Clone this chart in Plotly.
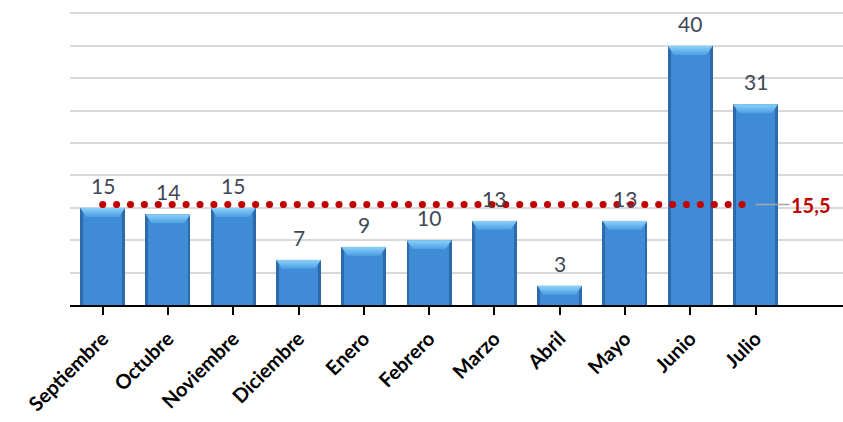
import plotly.graph_objects as go

# Monthly counts and the period average
months = ["Septiembre", "Octubre", "Noviembre", "Diciembre", "Enero", "Febrero",
          "Marzo", "Abril", "Mayo", "Junio", "Julio"]
counts = [15, 14, 15, 7, 9, 10, 13, 3, 13, 40, 31]
average = 15.5
average_label = "15,5"

BAR_W = 0.69        # outer bar width (category units)
INNER_W = 0.60      # lighter inner face
BEVEL_BOTTOM = 0.25 # half width of the bevel's lower edge
BEVEL_DEPTH = 1.4   # bevel height in value units

fig = go.Figure()

# Dark outer bar (gives the shaded side edges)
fig.add_trace(go.Bar(
    x=list(range(len(months))), y=counts, width=BAR_W,
    marker=dict(color="#2c69ad", line=dict(width=0)),
    hoverinfo="skip", showlegend=False,
))
# Lighter front face
fig.add_trace(go.Bar(
    x=list(range(len(months))), y=counts, width=INNER_W,
    marker=dict(color="#408bd5", line=dict(width=0)),
    hoverinfo="skip", showlegend=False,
))

# Bevelled top of each bar
for i, v in enumerate(counts):
    lo = max(v - BEVEL_DEPTH, 0)
    fig.add_trace(go.Scatter(
        x=[i - BAR_W / 2, i + BAR_W / 2, i + BEVEL_BOTTOM, i - BEVEL_BOTTOM, i - BAR_W / 2],
        y=[v, v, lo, lo, v],
        mode="lines", line=dict(width=0),
        fill="toself",
        fillgradient=dict(type="vertical",
                          colorscale=[[0, "#4c9fe4"], [1, "#8fd2f8"]]),
        hoverinfo="skip", showlegend=False,
    ))

# Dotted average line
fig.add_trace(go.Scatter(
    x=[0, len(months) - 1], y=[average, average],
    mode="lines",
    line=dict(color="#c00000", width=7, dash="0.1px,13.8px"),
    hoverinfo="skip", showlegend=False,
))

# Value labels above the bars
for i, v in enumerate(counts):
    fig.add_annotation(
        x=i, y=v, text=str(v), showarrow=False,
        yanchor="bottom", yshift=8,
        font=dict(family="Lato", size=21, color="#3f4756"),
    )

# Average label with leader line
fig.add_annotation(
    x=len(months) - 1, y=average, text="<b>" + average_label + "</b>",
    showarrow=True, arrowhead=0, arrowwidth=1.5, arrowcolor="#a6a6a6",
    ax=55, ay=0, standoff=0,
    font=dict(family="Lato", size=20, color="#c00000"),
)

fig.update_layout(
    width=843, height=422,
    margin=dict(l=70, r=0, t=0, b=117),
    paper_bgcolor="white", plot_bgcolor="white",
    barmode="overlay", bargap=0,
    showlegend=False,
    xaxis=dict(
        tickmode="array", tickvals=list(range(len(months))), ticktext=months,
        range=[-0.5, 11.34],
        tickangle=-45,
        tickfont=dict(family="Lato", size=20, color="black", weight="bold"),
        ticklabelstandoff=4,
        automargin=False,
        showline=True, linecolor="black", linewidth=2,
        ticks="outside", ticklen=8, tickwidth=2, tickcolor="black",
        showgrid=False, zeroline=False,
    ),
    yaxis=dict(
        range=[0, 47.07], dtick=5, tick0=0,
        showticklabels=False, showgrid=True,
        gridcolor="#d9d9d9", gridwidth=1.5,
        zeroline=False, showline=False, automargin=False,
    ),
)

# Round caps turn the dashed average line into dots
post = """
document.querySelectorAll('.scatterlayer path.js-line').forEach(function(p){
  if ((p.style.strokeDasharray || '').indexOf('13.8') !== -1) {
    p.style.strokeLinecap = 'round';
  }
});
"""

fig.write_html("out.html", post_script=post)
